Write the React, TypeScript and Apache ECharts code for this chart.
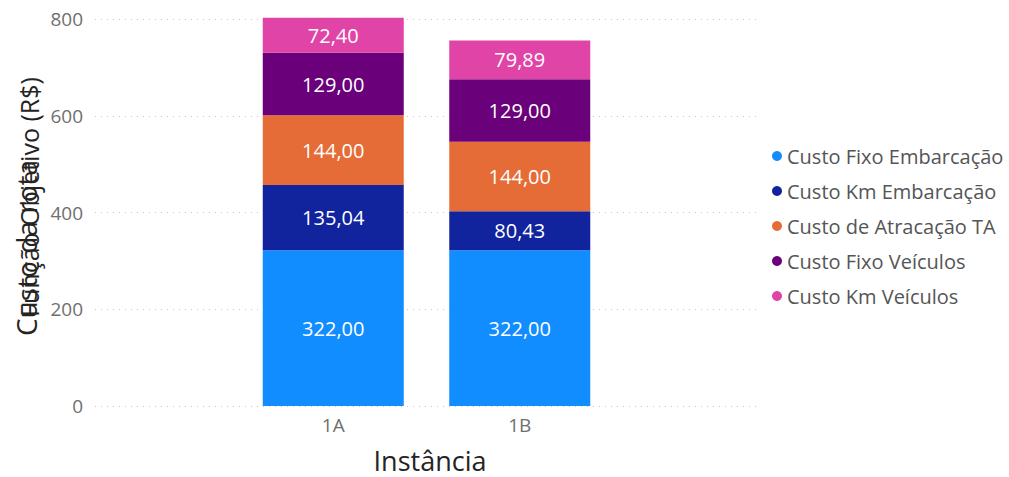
import React, { useEffect, useRef } from "react";
import * as echarts from "echarts";

const categories = ["1A", "1B"];
const seriesNames = [
  "Custo Fixo Embarcação",
  "Custo Km Embarcação",
  "Custo de Atracação TA",
  "Custo Fixo Veículos",
  "Custo Km Veículos",
];
const fixoEmbarcacao = [322.0, 322.0];
const kmEmbarcacao = [135.04, 80.43];
const atracacao = [144.0, 144.0];
const fixoVeiculos = [129.0, 129.0];
const kmVeiculos = [72.4, 79.89];
const colors = ["#118DFF", "#12239E", "#E66C37", "#6B007B", "#E044A7"];
const yTicks = [0, 200, 400, 600, 800];

const FONT = "'Segoe UI', 'Open Sans', 'Noto Sans', sans-serif";

export default function App() {
  const ref = useRef<HTMLDivElement>(null);
  useEffect(() => {
    document.body.style.margin = "0";
    if (!ref.current) return;
    const chart = echarts.init(ref.current, undefined, { renderer: "svg" });
    const values = [fixoEmbarcacao, kmEmbarcacao, atracacao, fixoVeiculos, kmVeiculos];
    const top = 19;
    const bottom = 477 - 406;
    chart.setOption({
      animation: false,
      color: colors,
      textStyle: { fontFamily: FONT },
      grid: [
        { left: 95, right: 249, top, bottom },
        { left: 240, width: 373, top, bottom },
      ],
      xAxis: [
        { gridIndex: 0, type: "value", show: false, min: 0, max: 1 },
        {
          gridIndex: 1,
          type: "category",
          data: categories,
          axisLine: { show: false },
          axisTick: { show: false },
          axisLabel: { color: "#6f6f6f", fontSize: 19, margin: 9, fontFamily: FONT },
        },
      ],
      yAxis: [
        {
          gridIndex: 0,
          type: "value",
          min: yTicks[0],
          max: yTicks[yTicks.length - 1],
          interval: 200,
          axisLine: { show: false },
          axisTick: { show: false },
          axisLabel: { color: "#6f6f6f", fontSize: 19, margin: 12, fontFamily: FONT },
          splitLine: { lineStyle: { type: [1, 5], color: "#c8c8c8", width: 1 } },
        },
        {
          gridIndex: 1,
          type: "value",
          min: 0,
          max: 800,
          interval: 200,
          show: false,
          splitLine: { show: false },
        },
      ],
      legend: {
        orient: "vertical",
        left: 767,
        top: 139,
        icon: "circle",
        itemWidth: 10,
        itemHeight: 10,
        itemGap: 11,
        data: seriesNames,
        textStyle: { color: "#555", fontSize: 20, lineHeight: 24, fontFamily: FONT },
      },
      series: seriesNames.map((name, i) => ({
        name,
        type: "bar",
        stack: "total",
        xAxisIndex: 1,
        yAxisIndex: 1,
        barWidth: 141,
        clip: false,
        data: values[i],
        label: {
          show: true,
          position: "inside",
          color: "#fff",
          fontSize: 20,
          fontFamily: FONT,
          formatter: (p: any) => Number(p.value).toFixed(2).replace(".", ","),
        },
      })),
      graphic: [
        {
          type: "text",
          x: 26,
          y: 248,
          rotation: Math.PI / 2,
          style: {
            text: "Custo da rota",
            fill: "#252423",
            fontSize: 28,
            fontFamily: FONT,
            align: "center",
            verticalAlign: "middle",
          },
        },
        {
          type: "text",
          x: 29,
          y: 197,
          rotation: Math.PI / 2,
          style: {
            text: "Função Objetivo (R$)",
            fill: "#252423",
            fontSize: 25,
            fontFamily: FONT,
            align: "center",
            verticalAlign: "middle",
          },
        },
        {
          type: "text",
          x: 430,
          y: 460,
          style: {
            text: "Instância",
            fill: "#252423",
            fontSize: 27,
            fontFamily: FONT,
            align: "center",
            verticalAlign: "middle",
          },
        },
      ],
    });
    return () => chart.dispose();
  }, []);
  return <div ref={ref} style={{ width: 1009, height: 477 }} />;
}
